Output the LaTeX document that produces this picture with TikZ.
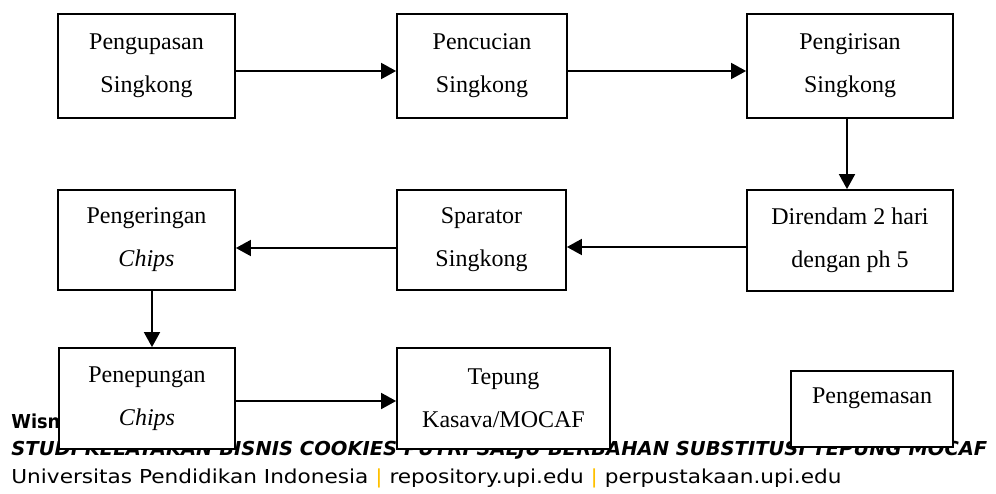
\documentclass[tikz,border=0pt]{standalone}
\usepackage{fontspec}
\setmainfont{Liberation Serif}
\newfontfamily\footfont{DejaVu Sans}
\usetikzlibrary{arrows.meta}
\definecolor{sepcol}{RGB}{255,192,0}
\tikzset{
  procbox/.style={draw=black, line width=0.9pt, fill=white, align=center,
    font=\fontsize{12pt}{21.5pt}\selectfont, inner sep=0pt},
  flow/.style={line width=0.9pt, -{Triangle[length=7.5pt,width=8pt]}},
  foot/.style={anchor=base west, inner sep=0pt, font=\footfont\fontsize{9.6pt}{11pt}\selectfont}
}
\begin{document}
\begin{tikzpicture}[x=0.5pt,y=-0.5pt]
\useasboundingbox (0,0) rectangle (996,493);
% footer text (partly hidden behind the boxes)
\node[foot] (f1) at (11,428) {\resizebox{24.5pt}{\height}{\bfseries Wisn}};
\node[foot] (f2) at (11,455) {\resizebox{488pt}{\height}{\bfseries\itshape STUDI KELAYAKAN BISNIS COOKIES PUTRI SALJU BERBAHAN SUBSTITUSI TEPUNG MOCAF}};
\node[foot] (f3) at (11,483) {\resizebox{415pt}{\height}{Universitas Pendidikan Indonesia \textcolor{sepcol}{|} repository.upi.edu \textcolor{sepcol}{|} perpustakaan.upi.edu}};
% boxes
\node[procbox, minimum width=88.5pt, minimum height=52pt] (b1) at (146.5,66) {Pengupasan\\Singkong};
\node[procbox, minimum width=85pt, minimum height=52pt] (b2) at (482,66) {Pencucian\\Singkong};
\node[procbox, minimum width=103pt, minimum height=52pt] (b3) at (850,66) {Pengirisan\\Singkong};
\node[procbox, minimum width=103pt, minimum height=50.5pt] (b4) at (850,240.5) {Direndam 2 hari\\dengan ph 5};
\node[procbox, minimum width=84.5pt, minimum height=50pt] (b5) at (481.5,240) {Sparator\\Singkong};
\node[procbox, minimum width=88.5pt, minimum height=50pt] (b6) at (146.5,240) {Pengeringan\\\textit{Chips}};
\node[procbox, minimum width=88pt, minimum height=50.5pt] (b7) at (147,398.5) {Penepungan\\\textit{Chips}};
\node[procbox, minimum width=106.5pt, minimum height=50.5pt] (b8) at (503.5,398.5) {Tepung\\Kasava/MOCAF};
\node[procbox, minimum width=81pt, minimum height=38pt] (b9) at (872,409) {};
\node[anchor=base, inner sep=0pt, font=\fontsize{12pt}{14pt}\selectfont] (b9t) at ([yshift=3pt]b9.center) {Pengemasan};
% connectors
\draw[flow] ([yshift=-2.5pt]b1.east) -- ([yshift=-2.5pt]b1.east -| b2.west);
\draw[flow] ([yshift=-2.5pt]b2.east) -- ([yshift=-2.5pt]b2.east -| b3.west);
\draw[flow] ([xshift=-1.5pt]b3.south) -- ([xshift=-1.5pt]b3.south |- b4.north);
\draw[flow] ([yshift=-3.25pt]b4.west) -- ([yshift=-3.25pt]b4.west -| b5.east);
\draw[flow] ([yshift=-4pt]b5.west) -- ([yshift=-4pt]b5.west -| b6.east);
\draw[flow] ([xshift=2.75pt]b6.south) -- ([xshift=2.75pt]b6.south |- b7.north);
\draw[flow] ([yshift=-1.25pt]b7.east) -- ([yshift=-1.25pt]b7.east -| b8.west);
\end{tikzpicture}
\end{document}
